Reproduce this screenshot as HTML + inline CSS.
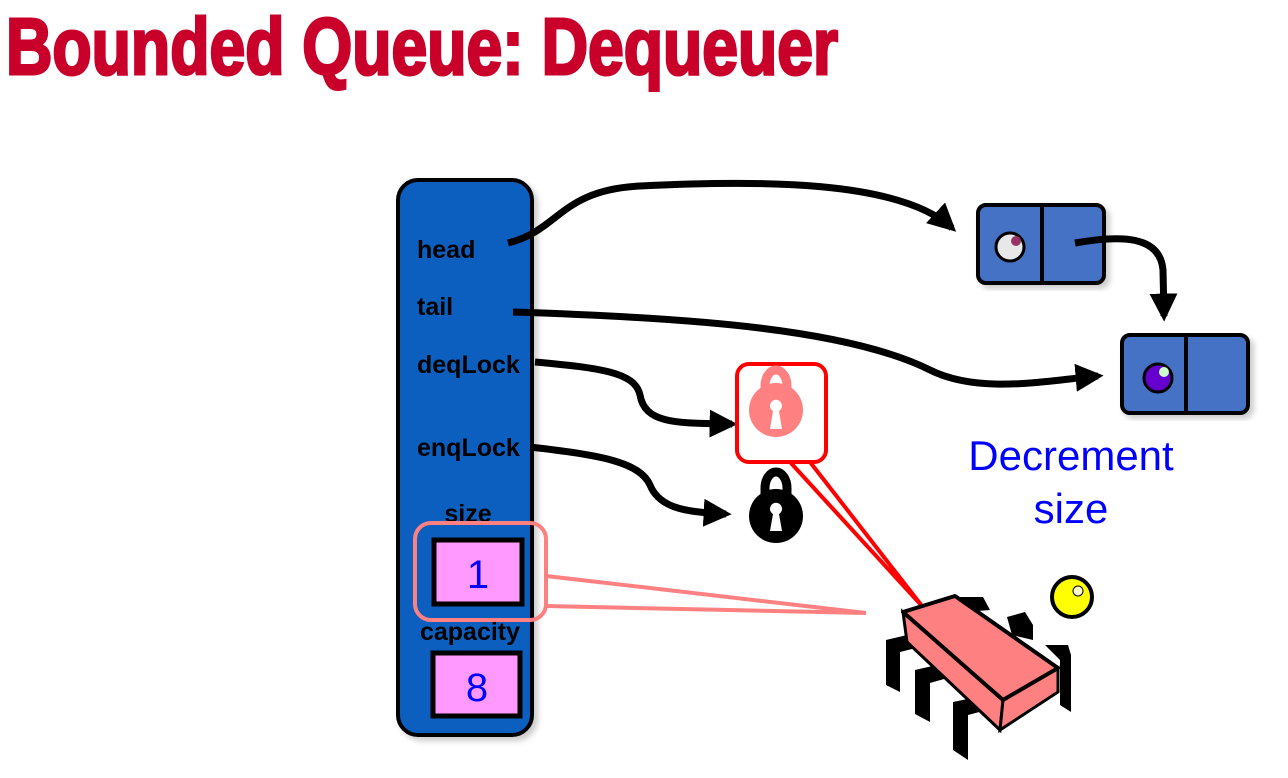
<!DOCTYPE html>
<html><head><meta charset="utf-8"><style>
html,body{margin:0;padding:0;background:#fff;width:1288px;height:778px;overflow:hidden}
</style></head><body>
<svg width="1288" height="778" viewBox="0 0 1288 778" xmlns="http://www.w3.org/2000/svg">
<defs>
<marker id="ah" viewBox="0 0 10 10" refX="8" refY="5" markerWidth="4" markerHeight="4" orient="auto" markerUnits="strokeWidth">
<path d="M0,0 L10,5 L0,10 z" fill="#000"/></marker>
<filter id="sh"><feDropShadow dx="4" dy="4" stdDeviation="3" flood-color="#000" flood-opacity="0.2"/></filter>
</defs>
<text x="6" y="74" font-family="Liberation Sans Narrow, Liberation Sans, sans-serif" font-weight="bold" font-size="80" fill="#c8002a" stroke="#c8002a" stroke-width="3" textLength="832" lengthAdjust="spacingAndGlyphs">Bounded Queue: Dequeuer</text>

<!-- panel -->
<rect x="398" y="180" width="134" height="555" rx="20" fill="#0a5fbf" stroke="#000" stroke-width="4" filter="url(#sh)"/>
<g font-family="Liberation Sans, sans-serif" font-weight="bold" font-size="25" fill="#000">
<text x="417" y="258">head</text>
<text x="417" y="315">tail</text>
<text x="417" y="373">deqLock</text>
<text x="417" y="456">enqLock</text>
<text x="468" y="522" text-anchor="middle">size</text>
<text x="470" y="640" text-anchor="middle">capacity</text>
</g>
<rect x="434" y="540" width="88" height="64" fill="#ff99ff" stroke="#000" stroke-width="5"/>
<text x="478" y="588" text-anchor="middle" font-family="Liberation Sans, sans-serif" font-size="40" fill="#00f">1</text>
<rect x="433" y="653" width="87" height="63" fill="#ff99ff" stroke="#000" stroke-width="5"/>
<text x="477" y="701" text-anchor="middle" font-family="Liberation Sans, sans-serif" font-size="40" fill="#00f">8</text>
<rect x="415" y="523" width="131" height="97" rx="16" fill="none" stroke="#ff8080" stroke-width="4"/>
<path d="M546,576 L866,613 L546,606" fill="none" stroke="#ff8080" stroke-width="4"/>

<!-- nodes -->
<rect x="978" y="205" width="126" height="78" rx="8" fill="#4472c4" stroke="#000" stroke-width="4" filter="url(#sh)"/>
<line x1="1042" y1="205" x2="1042" y2="283" stroke="#000" stroke-width="4"/>
<circle cx="1010" cy="247" r="14" fill="#e8e8e8" stroke="#000" stroke-width="3"/>
<circle cx="1016" cy="241" r="5" fill="#993366"/>
<rect x="1122" y="335" width="126" height="78" rx="8" fill="#4472c4" stroke="#000" stroke-width="4" filter="url(#sh)"/>
<line x1="1186" y1="335" x2="1186" y2="413" stroke="#000" stroke-width="4"/>
<circle cx="1158" cy="378" r="14" fill="#6600cc" stroke="#000" stroke-width="3"/>
<circle cx="1164" cy="372" r="5" fill="#ccffcc"/>

<!-- arrows -->
<g fill="none" stroke="#000" stroke-width="7" marker-end="url(#ah)">
<path d="M508,243 C560,230 560,190 640,186 C760,180 900,180 952,228"/>
<path d="M513,312 C700,318 850,330 930,370 C980,395 1050,380 1098,376"/>
<path d="M535,362 C600,368 635,372 640,395 C645,425 680,423 732,424"/>
<path d="M530,447 C600,455 640,462 650,485 C660,510 690,512 726,514"/>
<path d="M1075,243 C1120,235 1160,235 1163,270 L1164,316"/>
</g>

<!-- red lock box -->
<path d="M790,462 L922,606 L810,462" fill="none" stroke="#f00" stroke-width="4"/>
<rect x="737" y="364" width="89" height="98" rx="12" fill="#fff" stroke="#f00" stroke-width="4"/>
<path d="M765,398 V386 A11,16 0 0 1 787,386 V398" fill="none" stroke="#ff8080" stroke-width="9"/>
<circle cx="776" cy="410" r="27" fill="#ff8080"/>
<path d="M770,429 L773,411 A6,6 0 1 1 779,411 L782,429z" fill="#fff"/>
<path d="M765,500 V488 A11,16 0 0 1 787,488 V500" fill="none" stroke="#000" stroke-width="9"/>
<circle cx="776" cy="516" r="27" fill="#000"/>
<path d="M770,531 L773,514 A6,6 0 1 1 779,514 L782,531z" fill="#fff"/>

<text x="1071" y="470" text-anchor="middle" font-family="Liberation Sans, sans-serif" font-size="42" fill="#00f">Decrement</text>
<text x="1071" y="523" text-anchor="middle" font-family="Liberation Sans, sans-serif" font-size="42" fill="#00f">size</text>

<!-- bug legs -->
<g fill="#000">
<path d="M960,597 L983,597 L990,610 L965,612z"/>
<path d="M1007,617 L1025,612 L1033,625 L1033,640 L1012,635z"/>
<path d="M1045,645 L1068,645 L1071,655 L1071,712 L1060,705 L1060,660z"/>
<path d="M886,640 L920,632 L928,645 L900,652 L900,692 L886,685z"/>
<path d="M915,670 L950,662 L958,675 L930,683 L930,722 L915,714z"/>
<path d="M953,702 L992,694 L998,707 L968,715 L968,760 L953,750z"/>
</g>
<!-- bug body -->
<path d="M903,612 L1003,700 L1000,730 L907,642z" fill="#ff8080" stroke="#000" stroke-width="3"/>
<path d="M1003,700 L1058,668 L1058,692 L1000,730z" fill="#ff8080" stroke="#000" stroke-width="3"/>
<path d="M903,612 L955,596 L1058,668 L1003,700z" fill="#ff8080" stroke="#000" stroke-width="4" stroke-linejoin="round"/>
<circle cx="1072" cy="597" r="20" fill="#ff0" stroke="#000" stroke-width="4"/>
<circle cx="1078" cy="591" r="5" fill="#ffffcc" stroke="#000" stroke-width="1"/>
</svg>
</body></html>
